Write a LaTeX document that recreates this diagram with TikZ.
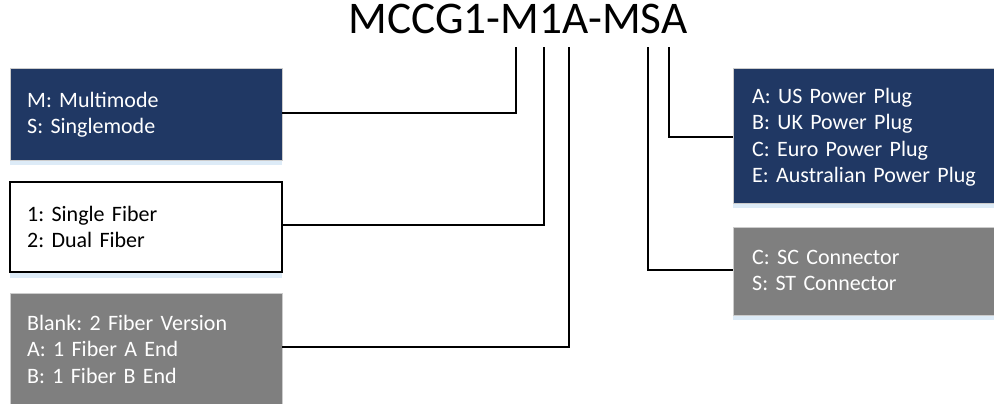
\documentclass[tikz,border=0pt]{standalone}
\usepackage{fontspec}
\setmainfont{Carlito}
\definecolor{navy}{HTML}{203864}
\definecolor{midgray}{HTML}{7F7F7F}
\definecolor{stripblue}{HTML}{DDEBF7}
\tikzset{
  boxnavy/.style={fill=navy, draw=gray!40, line width=0.6pt, inner sep=0pt},
  boxgray/.style={fill=midgray, draw=gray!40, line width=0.6pt, inner sep=0pt},
  boxwhite/.style={fill=white, draw=black, line width=2pt, inner sep=0pt},
  strip/.style={fill=stripblue, draw=none},
  boxtext/.style={font=\fontsize{22}{26.5}\selectfont, align=left, text width=250pt, inner sep=0pt, anchor=base west},
  conn/.style={draw=black, line width=1.3pt},
}
\begin{document}
\frenchspacing
\begin{tikzpicture}[x=1pt,y=-1pt]
\useasboundingbox (0,0) rectangle (994,404);
\clip (0,0) rectangle (994,404);
% title
\node[font=\fontsize{45.3}{52}\selectfont, inner sep=0pt, anchor=base] (title) at (518,34) {MCCG1-M1A-MSA};
% tops of connectors
\coordinate (t1) at (516,47);
\coordinate (t2) at (544,47);
\coordinate (t3) at (569,47);
\coordinate (t5) at (648,47);
\coordinate (t4) at (669,47);
% strips
\fill[strip] (10,158) rectangle (282,165);
\fill[strip] (10,270) rectangle (282,278);
\fill[strip] (733,201) rectangle (994,208);
\fill[strip] (733,313) rectangle (994,320);
% boxes
\node[boxnavy, minimum width=272pt, minimum height=92pt] (b1) at (146,114) {};
\node[boxwhite, minimum width=272pt, minimum height=90pt] (b2) at (146,227) {};
\node[boxgray, minimum width=272pt, minimum height=120pt] (b3) at (146,353) {};
\node[boxnavy, minimum width=270pt, minimum height=135pt] (b4) at (868,135.5) {};
\node[boxgray, minimum width=270pt, minimum height=88pt] (b5) at (868,271) {};
% texts
\node[boxtext, text=white] (x1) at (27,107) {M: Multimode\\S: Singlemode};
\node[boxtext, text=black] (x2) at (27,221) {1: Single Fiber\\2: Dual Fiber};
\node[boxtext, text=white] (x3) at (27,330) {Blank: 2 Fiber Version\\A: 1 Fiber A End\\B: 1 Fiber B End};
\node[boxtext, text=white] (x4) at (752,103) {A: US Power Plug\\B: UK Power Plug\\C: Euro Power Plug\\E: Australian Power Plug};
\node[boxtext, text=white] (x5) at (752,264) {C: SC Connector\\S: ST Connector};
% connectors
\coordinate (j1) at (516,113);
\coordinate (j2) at (544,225);
\coordinate (j3) at (569,347);
\coordinate (j4) at (669,137);
\coordinate (j5) at (648,270);
\draw[conn] (b1.east |- j1) -- (j1) -- (t1);
\draw[conn] (b2.east |- j2) -- (j2) -- (t2);
\draw[conn] (b3.east |- j3) -- (j3) -- (t3);
\draw[conn] (b4.west |- j4) -- (j4) -- (t4);
\draw[conn] (b5.west |- j5) -- (j5) -- (t5);
\end{tikzpicture}
\end{document}
